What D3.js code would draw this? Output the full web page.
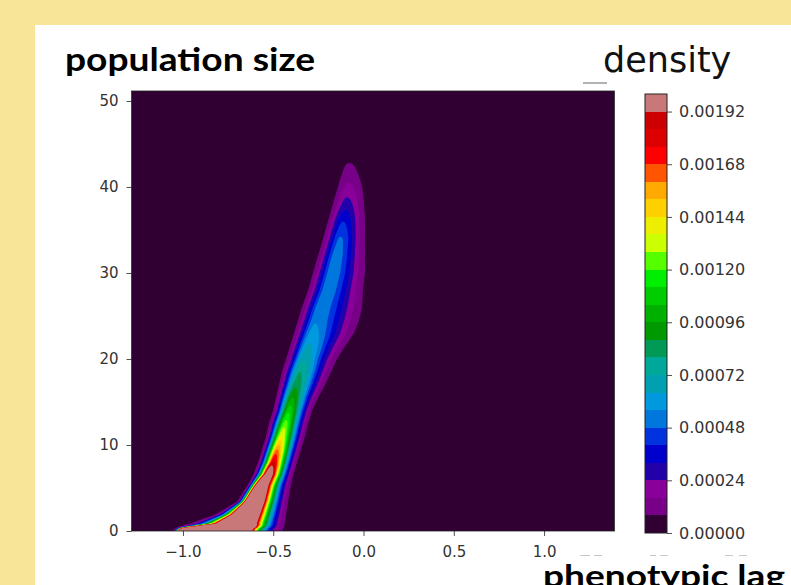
<!DOCTYPE html>
<html><head><meta charset="utf-8">
<script src="https://cdn.jsdelivr.net/npm/d3@7"></script>
<style>body{margin:0;background:#f9e597;} svg{display:block}</style>
</head><body>
<svg id="chart" width="791" height="585"></svg>
<script>
// ---- data ----
const xTicks = [-1.0, -0.5, 0.0, 0.5, 1.0];
const yTicks = [0, 10, 20, 30, 40, 50];
const levels = [0, 0.00008, 0.00016, 0.00024, 0.00032, 0.0004, 0.00048, 0.00056, 0.00064, 0.00072,
  0.0008, 0.00088, 0.00096, 0.00104, 0.00112, 0.0012, 0.00128, 0.00136, 0.00144, 0.00152,
  0.0016, 0.00168, 0.00176, 0.00184, 0.00192, 0.002];
const cbTicks = [0, 0.00024, 0.00048, 0.00072, 0.00096, 0.0012, 0.00144, 0.00168, 0.00192];
// ridge of the density: population size rows, ridge centre, outer (lowest level) contour edges, peak density
const ridgeY      = [0, 0.3, 0.55, 0.8, 1.9, 3.4, 5.3, 6.6, 8, 9.5, 11, 12.5, 14, 15.5, 17, 18.5, 20, 21.5, 23, 24.5, 26, 28, 30, 32, 34, 36, 38, 40, 41.5, 42.8, 44, 51.2];
const ridgeCenter = [-0.972, -0.935, -0.806, -0.710, -0.669, -0.629, -0.580, -0.530, -0.501, -0.479, -0.457, -0.435, -0.413, -0.396, -0.374, -0.352, -0.330, -0.307, -0.285, -0.263, -0.241, -0.202, -0.175, -0.152, -0.130, -0.114, -0.097, -0.086, -0.080, -0.080, -0.080, -0.080];
const ridgeLeft   = [-1.061, -1.044, -1.011, -0.972, -0.823, -0.701, -0.643, -0.609, -0.584, -0.562, -0.540, -0.524, -0.501, -0.485, -0.468, -0.452, -0.429, -0.407, -0.385, -0.363, -0.341, -0.307, -0.280, -0.252, -0.224, -0.197, -0.169, -0.141, -0.119, -0.091, -0.085, -0.085];
const ridgeRight  = [-0.452, -0.444, -0.440, -0.438, -0.429, -0.418, -0.402, -0.388, -0.368, -0.346, -0.324, -0.307, -0.285, -0.252, -0.213, -0.180, -0.147, -0.102, -0.053, -0.025, -0.008, -0.003, 0.008, 0.008, 0.008, 0.008, 0.003, -0.008, -0.030, -0.064, -0.070, -0.070];
const ridgePeak   = [0.03, 0.023, 0.009, 0.004, 0.0035, 0.0033, 0.00262, 0.00219, 0.00182, 0.0016, 0.00138, 0.00124, 0.0011, 0.00096, 0.00086, 0.0008, 0.00071, 0.00065, 0.00059, 0.00055, 0.00054, 0.00054, 0.00054, 0.00053, 0.00049, 0.0004, 0.00028, 0.00018, 0.00012, 0.00008, 0.00002, 0];

// ---- style ----
const bandColors = ["#2f0031", "#780088", "#880099", "#2200aa", "#0000cc", "#0033dd", "#0077dd", "#0099dd",
  "#00a0b0", "#00a899", "#009955", "#009900", "#00b000", "#00cc00", "#00ee00", "#55ff00", "#ccff00",
  "#eeee00", "#ffd000", "#ffaa00", "#ff5500", "#ff0000", "#dd0000", "#cc0000", "#c87878"];

const svg = d3.select("#chart");
svg.append("rect").attr("x", 35).attr("y", 25).attr("width", 756).attr("height", 560).attr("fill", "#ffffff");

const P = {left: 131.5, right: 614.5, top: 91, bottom: 531};
const xScale = d3.scaleLinear().domain([-1.285, 1.39]).range([P.left, P.right]);
const yScale = d3.scaleLinear().domain([0, 51.16]).range([P.bottom, P.top]);

// per-row widths from peak & outer contour
const L0 = levels[1];
const nR = ridgeY.length;
const wl = new Array(nR), wr = new Array(nR);
for (let k = 0; k < nR; k++) {
  if (ridgePeak[k] > 1.3 * L0) {
    const d0 = Math.sqrt(2 * Math.log(ridgePeak[k] / L0));
    wl[k] = Math.max(0.004, (ridgeCenter[k] - ridgeLeft[k]) / d0);
    wr[k] = Math.max(0.004, (ridgeRight[k] - ridgeCenter[k]) / d0);
  } else { wl[k] = wl[k - 1]; wr[k] = wr[k - 1]; }
}
function field(x, y) {
  if (y < ridgeY[0] || y > ridgeY[nR - 1]) return 0;
  let k = d3.bisectRight(ridgeY, y) - 1;
  if (k >= nR - 1) k = nR - 2;
  const t = (y - ridgeY[k]) / (ridgeY[k + 1] - ridgeY[k]);
  const c = ridgeCenter[k] + t * (ridgeCenter[k + 1] - ridgeCenter[k]);
  const p = ridgePeak[k] + t * (ridgePeak[k + 1] - ridgePeak[k]);
  const a = wl[k] + t * (wl[k + 1] - wl[k]);
  const b = wr[k] + t * (wr[k + 1] - wr[k]);
  const d = (x - c) / (x < c ? a : b);
  return p * Math.exp(-0.5 * d * d);
}

const W = Math.round(P.right - P.left), H = Math.round(P.bottom - P.top);
const gridX = d3.scaleLinear().domain([0, W]).range(xScale.domain());
const gridY = d3.scaleLinear().domain([0, H]).range([yScale.domain()[1], yScale.domain()[0]]);
const values = new Float64Array(W * H);
for (let j = 0; j < H; j++) {
  const y = gridY(j + 0.5);
  for (let i = 0; i < W; i++) values[j * W + i] = field(gridX(i + 0.5), y);
}
const thresholds = levels.slice(1, 25);
const contours = d3.contours().size([W, H]).thresholds(thresholds)(values);
const proj = d3.geoTransform({point(x, y) { this.stream.point(xScale(gridX(x)), yScale(gridY(y))); }});
const path = d3.geoPath(proj);

svg.append("clipPath").attr("id", "plotclip").append("rect")
  .attr("x", P.left).attr("y", P.top).attr("width", P.right - P.left).attr("height", P.bottom - P.top);
const plot = svg.append("g").attr("clip-path", "url(#plotclip)");
plot.append("rect").attr("x", P.left).attr("y", P.top).attr("width", P.right - P.left).attr("height", P.bottom - P.top)
  .attr("fill", bandColors[0]);
plot.selectAll("path.band").data(contours).join("path").attr("class", "band")
  .attr("d", path).attr("fill", (d, i) => bandColors[i + 1]);

svg.append("rect").attr("x", P.left).attr("y", P.top).attr("width", P.right - P.left).attr("height", P.bottom - P.top)
  .attr("fill", "none").attr("stroke", "#222").attr("stroke-width", 0.8);

const tickFont = "DejaVu Sans";
const xAxis = svg.append("g").attr("transform", `translate(0,${P.bottom})`)
  .call(d3.axisBottom(xScale).tickValues(xTicks).tickFormat(d3.format(".1f")).tickSize(5).tickPadding(10));
const yAxis = svg.append("g").attr("transform", `translate(${P.left},0)`)
  .call(d3.axisLeft(yScale).tickValues(yTicks).tickFormat(d3.format("d")).tickSize(5).tickPadding(8));
[xAxis, yAxis].forEach(g => {
  g.select(".domain").remove();
  g.selectAll("line").attr("stroke", "#222").attr("stroke-width", 0.8);
  g.selectAll("text").attr("font-family", tickFont).attr("font-size", 15).attr("fill", "#333");
});

// colorbar
const CB = {x: 645, w: 22, top: 94, bottom: 533};
const cScale = d3.scaleLinear().domain([levels[0], levels[levels.length - 1]]).range([CB.bottom, CB.top]);
svg.append("g").selectAll("rect").data(d3.range(levels.length - 1)).join("rect")
  .attr("x", CB.x).attr("width", CB.w)
  .attr("y", i => cScale(levels[i + 1])).attr("height", i => cScale(levels[i]) - cScale(levels[i + 1]))
  .attr("fill", i => bandColors[i]).attr("shape-rendering", "crispEdges");
svg.append("rect").attr("x", CB.x).attr("y", CB.top).attr("width", CB.w).attr("height", CB.bottom - CB.top)
  .attr("fill", "none").attr("stroke", "#222").attr("stroke-width", 1);
const cAxis = svg.append("g").attr("transform", `translate(${CB.x + CB.w},0)`)
  .call(d3.axisRight(cScale).tickValues(cbTicks).tickFormat(d3.format(".5f")).tickSize(5).tickPadding(7));
cAxis.select(".domain").remove();
cAxis.selectAll("line").attr("stroke", "#222").attr("stroke-width", 0.8);
cAxis.selectAll("text").attr("font-family", tickFont).attr("font-size", 16).attr("fill", "#333");

// titles
svg.append("text").attr("x", 65).attr("y", 71).text("population size")
  .attr("font-family", "Lato, 'Open Sans', sans-serif").attr("font-weight", "bold").attr("font-size", 32)
  .attr("textLength", 250).attr("lengthAdjust", "spacingAndGlyphs").attr("fill", "#000");
svg.append("line").attr("x1", 583).attr("x2", 607).attr("y1", 83).attr("y2", 83).attr("stroke", "#999").attr("stroke-width", 1.5);
svg.append("text").attr("x", 603).attr("y", 72).text("density")
  .attr("font-family", "DejaVu Sans").attr("font-size", 35).attr("fill", "#111");
svg.append("text").attr("x", 543).attr("y", 587).text("phenotypic lag")
  .attr("font-family", "Lato, 'Open Sans', sans-serif").attr("font-weight", "bold").attr("font-size", 31)
  .attr("textLength", 242).attr("lengthAdjust", "spacingAndGlyphs").attr("fill", "#000");
// faint cropped marks
[[580, 590], [594, 602], [650, 656], [660, 668], [725, 733], [739, 747]].forEach(([a, b]) =>
  svg.append("line").attr("x1", a).attr("x2", b).attr("y1", 555.5).attr("y2", 555.5).attr("stroke", "#c8c8c8").attr("stroke-width", 1));
</script>
</body></html>
